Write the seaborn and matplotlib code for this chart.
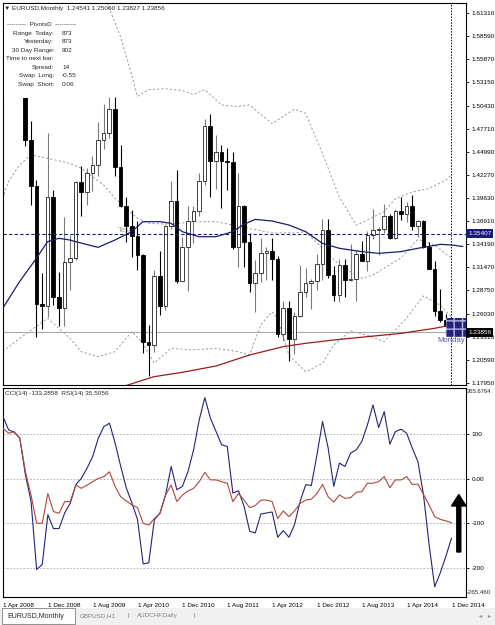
import matplotlib
matplotlib.use("Agg")
import matplotlib.pyplot as plt
from matplotlib.patches import Rectangle, Polygon
import seaborn as sns
import pandas as pd

# EURUSD monthly bars, index 0 = Apr 2008 ... 80 = Dec 2014
opens = [1.5785, 1.5593, 1.5553, 1.5760, 1.5605, 1.4640, 1.4100, 1.2720, 1.2690, 1.3970,
         1.2801, 1.2667, 1.3212, 1.3250, 1.4152, 1.4033, 1.4249, 1.4343, 1.4639, 1.4717,
         1.5002, 1.4325, 1.3866, 1.3628, 1.3510, 1.3291, 1.2270, 1.2230, 1.3050, 1.2687,
         1.3633, 1.3925, 1.2987, 1.3380, 1.3690, 1.3806, 1.4161, 1.4808, 1.4391, 1.4497,
         1.4397, 1.4379, 1.3387, 1.3864, 1.3448, 1.2960, 1.3081, 1.3319, 1.3340, 1.3240,
         1.2370, 1.2665, 1.2305, 1.2580, 1.2860, 1.2960, 1.2990, 1.3190, 1.3580, 1.3060,
         1.2820, 1.3170, 1.3000, 1.3010, 1.3300, 1.3220, 1.3525, 1.3585, 1.3590, 1.3745,
         1.3485, 1.3805, 1.3770, 1.3870, 1.3635, 1.3692, 1.3389, 1.3130, 1.2630, 1.2525,
         1.24541]
highs = [1.6019, 1.5818, 1.5844, 1.6038, 1.5624, 1.4867, 1.4164, 1.3082, 1.4719, 1.4049,
         1.3089, 1.3738, 1.3520, 1.4157, 1.4338, 1.4305, 1.4446, 1.4844, 1.5062, 1.5144,
         1.5144, 1.4579, 1.3965, 1.3817, 1.3694, 1.3306, 1.2470, 1.3119, 1.3334, 1.3646,
         1.4159, 1.4282, 1.3500, 1.3863, 1.3861, 1.4250, 1.4884, 1.4940, 1.4700, 1.4578,
         1.4548, 1.4497, 1.4247, 1.3872, 1.3550, 1.3233, 1.3487, 1.3385, 1.3484, 1.3283,
         1.2747, 1.2747, 1.2624, 1.3172, 1.3140, 1.3010, 1.3308, 1.3711, 1.3711, 1.3167,
         1.3243, 1.3243, 1.3416, 1.3346, 1.3452, 1.3569, 1.3833, 1.3620, 1.3892, 1.3775,
         1.3824, 1.3967, 1.3906, 1.3993, 1.3702, 1.3700, 1.3444, 1.3222, 1.2887, 1.2600,
         1.25060]
lows = [1.5515, 1.5285, 1.5302, 1.5550, 1.4568, 1.3881, 1.2330, 1.2421, 1.2560, 1.2707,
        1.2457, 1.2458, 1.2885, 1.3226, 1.3747, 1.3878, 1.4045, 1.4211, 1.4536, 1.4661,
        1.4219, 1.3858, 1.3443, 1.3267, 1.3114, 1.2142, 1.1876, 1.2150, 1.2589, 1.2650,
        1.3600, 1.2967, 1.3030, 1.2873, 1.3429, 1.3747, 1.4110, 1.3968, 1.4069, 1.3838,
        1.4051, 1.3363, 1.3145, 1.3146, 1.2857, 1.2624, 1.2973, 1.3003, 1.3003, 1.2333,
        1.2288, 1.2042, 1.2130, 1.2561, 1.2802, 1.2660, 1.2876, 1.3001, 1.3020, 1.2750,
        1.2745, 1.2796, 1.2984, 1.2755, 1.3224, 1.3104, 1.3480, 1.3296, 1.3544, 1.3479,
        1.3476, 1.3703, 1.3673, 1.3586, 1.3503, 1.3367, 1.3150, 1.2571, 1.2501, 1.2358,
        1.23827]
closes = [1.5593, 1.5553, 1.5760, 1.5605, 1.4640, 1.4100, 1.2720, 1.2690, 1.3970, 1.2801,
          1.2667, 1.3212, 1.3250, 1.4152, 1.4033, 1.4249, 1.4343, 1.4639, 1.4717, 1.5002,
          1.4325, 1.3866, 1.3628, 1.3510, 1.3291, 1.2270, 1.2230, 1.3050, 1.2687, 1.3633,
          1.3925, 1.2987, 1.3380, 1.3690, 1.3806, 1.4161, 1.4808, 1.4391, 1.4497, 1.4397,
          1.4379, 1.3387, 1.3864, 1.3448, 1.2960, 1.3081, 1.3319, 1.3340, 1.3240, 1.2370,
          1.2665, 1.2305, 1.2580, 1.2860, 1.2960, 1.2990, 1.3190, 1.3580, 1.3060, 1.2820,
          1.3170, 1.3000, 1.3010, 1.3300, 1.3220, 1.3525, 1.3585, 1.3590, 1.3745, 1.3485,
          1.3805, 1.3770, 1.3870, 1.3635, 1.3692, 1.3389, 1.3130, 1.2630, 1.2525, 1.2454,
          1.23856]

# moving averages / bollinger bands, sampled at bar index
ma_blue_idx = [0, 3, 6, 8, 10, 12, 13, 17, 20, 23, 25, 28, 30, 32, 35, 38, 41, 43, 45, 48,
               51, 54, 57, 60, 64, 67, 71, 74, 78, 80, 82]
ma_blue = [1.2665, 1.2978, 1.3251, 1.3447, 1.3486, 1.3466, 1.3447, 1.3380, 1.3466, 1.3564,
           1.3681, 1.3681, 1.3662, 1.3564, 1.3505, 1.3505, 1.3564, 1.3650, 1.3708, 1.3689,
           1.3642, 1.3564, 1.3427, 1.3369, 1.3330, 1.3310, 1.3330, 1.3369, 1.3415, 1.3408, 1.3390]
ma_red_idx = [22, 26, 27, 32, 38, 44, 50, 54, 59, 65, 71, 77, 80, 82]
ma_red = [1.1760, 1.1844, 1.1864, 1.1915, 1.1989, 1.2118, 1.2216, 1.2255, 1.2294, 1.2333,
          1.2372, 1.2431, 1.2470, 1.2490]
bb_up_idx = [16, 19, 21, 23, 24, 26, 29, 32, 34, 36, 39, 42, 44, 48, 52, 54, 57, 60, 63, 65,
             68, 70, 73, 76, 79, 80]
bb_up = [1.680, 1.618, 1.585, 1.540, 1.515, 1.523, 1.524, 1.522, 1.517, 1.523, 1.505, 1.503,
         1.505, 1.483, 1.500, 1.495, 1.448, 1.397, 1.364, 1.370, 1.380, 1.395, 1.403, 1.407,
         1.417, 1.423]
bb_mid_idx = [0, 1, 3, 5, 8, 12, 14, 18, 20, 22, 24, 26, 30, 34, 38, 41, 44, 48, 52, 54,
              57, 60, 64, 66, 71, 74, 77, 80]
bb_mid = [1.3955, 1.4150, 1.4346, 1.4463, 1.4424, 1.4365, 1.4307, 1.4111, 1.3955, 1.3838,
          1.3720, 1.3662, 1.3650, 1.3681, 1.3681, 1.3642, 1.3600, 1.3550, 1.3550, 1.3564,
          1.3369, 1.3174, 1.3017, 1.3056, 1.3256, 1.3474, 1.3408, 1.3252]
bb_lo_idx = [0, 3, 8, 12, 14, 17, 20, 23, 25, 27, 30, 34, 38, 42, 44, 46, 48, 49, 51, 54,
             57, 59, 62, 65, 68, 72, 75, 78, 80]
bb_lo = [1.2157, 1.2313, 1.2548, 1.2313, 1.2157, 1.2098, 1.2157, 1.2391, 1.2259, 1.2024,
         1.2196, 1.2177, 1.2196, 1.2157, 1.2118, 1.2470, 1.2626, 1.2548, 1.2118, 1.1922,
         1.2020, 1.2235, 1.2400, 1.2350, 1.2275, 1.2550, 1.2810, 1.2700, 1.2560]

cci = [139.6, 109.7, 104.5, 91.0, 9.0, -50.7, -203.7, -192.5, -80.6, -111.9,
       -111.9, -76.9, -54.5, -13.4, 1.5, 23.9, 50.0, 91.0, 117.2, 124.6,
       79.9, 27.6, -20.9, -54.5, -91.8, -191.0, -188.8, -91.8, -76.9, -35.8,
       27.6, -24.6, -17.2, 16.4, 64.9, 132.1, 182.1, 135.8, 106.0, 76.1,
       72.4, -32.1, -26.9, -61.9, -117.9, -121.6, -79.1, -76.9, -74.6, -131.3,
       -116.4, -131.3, -103.0, -50.7, -13.4, -14.9, 53.7, 128.4, 68.7, -17.2,
       35.1, 27.6, 57.5, 64.9, 83.6, 120.9, 165.7, 114.9, 150.7, 77.6,
       106.0, 111.2, 102.2, 68.7, 38.8, -35.8, -147.8, -242.5, -211.2, -173.9,
       -133.3]
rsi = [66.8, 65.2, 65.7, 63.5, 52.4, 44.7, 35.3, 35.3, 45.2, 39.2,
       38.6, 42.5, 42.5, 48.0, 46.9, 48.0, 49.1, 50.2, 50.8, 52.4,
       47.5, 44.1, 42.7, 41.4, 40.5, 35.3, 34.7, 36.9, 38.6, 44.7,
       48.0, 42.5, 44.7, 46.0, 46.9, 49.1, 52.2, 49.7, 49.7, 49.1,
       48.6, 42.5, 45.2, 43.0, 40.5, 41.2, 43.0, 43.0, 42.5, 36.9,
       39.4, 37.5, 39.4, 41.9, 43.0, 43.3, 45.2, 48.2, 44.1, 42.3,
       44.7, 43.6, 43.8, 45.6, 45.8, 48.6, 48.6, 49.1, 50.8, 47.1,
       49.7, 49.7, 50.8, 48.2, 48.3, 44.9, 41.4, 37.5, 36.6, 36.1,
       35.5]

price_ticks = [1.61310, 1.58590, 1.55870, 1.53150, 1.50430, 1.47710, 1.44990, 1.42270,
               1.39630, 1.36910, 1.34190, 1.31470, 1.28750, 1.26030, 1.23310, 1.20590, 1.17950]
date_idx = [0, 8, 16, 24, 32, 40, 48, 56, 64, 72, 80]
date_labels = ['1 Apr 2008', '1 Dec 2008', '1 Aug 2009', '1 Apr 2010', '1 Dec 2010',
               '1 Aug 2011', '1 Apr 2012', '1 Dec 2012', '1 Aug 2013', '1 Apr 2014', '1 Dec 2014']
cci_ticks = [100, 0, -100, -200]
cci_tick_labels = ['100', '0.00', '-100', '-200']
hline_price = 1.35407
bid_price = 1.23856

W, H = 495, 625
FS = 4.6


def fx(x):
    return x / W


def fy(y):
    return 1 - y / H


sns.set_style("white")
plt.rcParams['font.family'] = ['Liberation Sans', 'DejaVu Sans']

fig = plt.figure(figsize=(4.95, 6.25), dpi=100)
fig.patch.set_facecolor('white')

ax = fig.add_axes([fx(3), fy(385), fx(466) - fx(3), fy(3) - fy(385)])
axi = fig.add_axes([fx(3), fy(597), fx(466) - fx(3), fy(388) - fy(597)])

x_lo, x_hi = (3 - 2.7) / 5.61, (466 - 2.7) / 5.61

# ---------- candles ----------
df = pd.DataFrame({'o': opens, 'h': highs, 'l': lows, 'c': closes})
df['i'] = range(len(df))
up = df['c'] >= df['o']
body_lo = df[['o', 'c']].min(axis=1)
body_h = (df['c'] - df['o']).abs().clip(lower=0.0003)

ax.vlines(df['i'][up], df['l'][up], df['h'][up], color='#7a7a7a', lw=0.8, zorder=2)
ax.vlines(df['i'][~up], df['l'][~up], df['h'][~up], color='black', lw=0.8, zorder=2)
ax.bar(df['i'][up], body_h[up], bottom=body_lo[up], width=0.64, color='white',
       edgecolor='#202020', linewidth=0.6, zorder=3)
ax.bar(df['i'][~up], body_h[~up], bottom=body_lo[~up], width=0.64, color='black',
       edgecolor='black', linewidth=0.6, zorder=3)

# ---------- overlays ----------
dash = (0, (2.2, 2.2))
for idx, vals in [(bb_up_idx, bb_up), (bb_mid_idx, bb_mid), (bb_lo_idx, bb_lo)]:
    sns.lineplot(x=idx, y=vals, ax=ax, color='#9a9a9a', lw=0.7, linestyle=dash,
                 estimator=None, sort=False, zorder=1)
sns.lineplot(x=ma_blue_idx, y=ma_blue, ax=ax, color='#1c1c6e', lw=0.9,
             estimator=None, sort=False, zorder=4)
sns.lineplot(x=ma_red_idx, y=ma_red, ax=ax, color='#9a1c1c', lw=0.9,
             estimator=None, sort=False, zorder=4)

ax.axhline(hline_price, color='#1c1c6e', lw=0.8, linestyle=(0, (3, 2)), zorder=5)
ax.axhline(bid_price, color='#a8a8a8', lw=0.8, zorder=1)
ax.axvline(80, color='black', lw=0.7, linestyle=(0, (1.5, 1.5)), zorder=5)
ax.text(20.6, 1.3560, 'Test', color='#a0a0a0', fontsize=5.5, zorder=1)

ax.set_xlim(x_lo, x_hi)
ax.set_ylim(1.17664, 1.62447)
ax.set_xticks([])
ax.yaxis.tick_right()
ax.set_yticks(price_ticks)
ax.set_yticklabels([f'{p:.5f}' for p in price_ticks])
ax.tick_params(axis='y', direction='out', length=2.5, width=0.6, pad=1.5,
               labelsize=FS, colors='black')

# ---------- indicator window ----------
for lvl in cci_ticks:
    axi.axhline(lvl, color='#a8a8a8', lw=0.6, linestyle=(0, (2, 2)), zorder=1)
axi.axhline(203.7, color='#a8a8a8', lw=0.9, linestyle=(0, (2, 2)), zorder=1)

sns.lineplot(x=list(range(len(cci))), y=cci, ax=axi, color='#23237a', lw=0.8,
             estimator=None, sort=False, zorder=3)
axi.set_ylim(-265.46, 203.7)
axi.set_xlim(x_lo, x_hi)

axr = axi.twinx()
sns.lineplot(x=list(range(len(rsi))), y=rsi, ax=axr, color='#b2463a', lw=0.8,
             estimator=None, sort=False, zorder=2)
axr.set_ylim(10.84, 80.2)
axr.set_xlim(x_lo, x_hi)
axr.set_yticks([])
axr.set_ylabel('')
for s in axr.spines.values():
    s.set_visible(False)

axi.yaxis.tick_right()
axi.set_yticks(cci_ticks)
axi.set_yticklabels(cci_tick_labels)
axi.tick_params(axis='y', direction='out', length=2.5, width=0.6, pad=1.5,
                labelsize=FS, colors='black')
axi.set_xticks(date_idx)
axi.set_xticklabels(date_labels)
axi.tick_params(axis='x', direction='out', length=2.5, width=0.6, pad=1.5,
                labelsize=FS, colors='black')
for lbl in axi.get_xticklabels():
    lbl.set_ha('left')

for a in (ax, axi):
    a.set_xlabel('')
    a.set_ylabel('')
    for s in a.spines.values():
        s.set_color('black')
        s.set_linewidth(0.8)

# ---------- decorations in pixel space ----------
def frect(x0, y0, x1, y1, **kw):
    r = Rectangle((fx(x0), fy(y1)), fx(x1) - fx(x0), fy(y0) - fy(y1),
                  transform=fig.transFigure, **kw)
    fig.add_artist(r)
    return r


def ftext(x, y, s, **kw):
    kw.setdefault('fontsize', FS)
    kw.setdefault('va', 'center')
    return fig.text(fx(x), fy(y), s, **kw)


# info panel background hides the candles under it
frect(3.5, 3.5, 86, 97.5, facecolor='white', edgecolor='none', zorder=6)
ftext(4, 8.5, '\u25bc EURUSD,Monthly  1.24541 1.25060 1.23827 1.23856', zorder=8)
ftext(7, 25, '---------  PivotsD  ----------', zorder=8)
info = [('Range  Today:', '873'), ('Yesterday:', '873'), ('30 Day Range:', '902'),
        ('Time to next bar:', ''), ('Spread:', '14'), ('Swap  Long:', '-0.55'),
        ('Swap  Short:', '0.06')]
for k, (lab, val) in enumerate(info):
    yy = 33.5 + k * 8.45
    ftext(54, yy, lab, ha='right', zorder=8)
    ftext(62, yy, val, ha='left', zorder=8)

ftext(5, 393.5, 'CCI(14) -133.2858  RSI(14) 35.5056', zorder=8)
ftext(467, 391.5, '265.6764', fontsize=4.2, zorder=8)
ftext(467, 592, '-265.460', fontsize=4.4, zorder=8)

# axis price boxes
ftext(468, 233.5, '1.35407', color='white', zorder=9,
      bbox=dict(boxstyle='square,pad=0.28', fc='#1a1a78', ec='none'))
ftext(468, 332.5, '1.23856', color='white', zorder=9,
      bbox=dict(boxstyle='square,pad=0.28', fc='black', ec='none'))

# Monday object
frect(446, 318, 466, 336.5, facecolor='#232383', edgecolor='#b8b8e0', hatch='++',
      linewidth=0, zorder=7)
ftext(437, 341, 'Monday', color='#5a5aa5', fontsize=5.6, zorder=8)

# big arrow in indicator window
ax_pts = [(456.8, 552), (456.8, 506), (451.5, 506), (458.8, 494.5), (466, 506),
          (460.8, 506), (460.8, 552)]
fig.add_artist(Polygon([(fx(x), fy(y)) for x, y in ax_pts], closed=True,
                       transform=fig.transFigure, facecolor='black', edgecolor='black',
                       zorder=8))

# tab bar
frect(0, 608, 495, 625, facecolor='#f0f0f0', edgecolor='none', zorder=1)
frect(0, 607.5, 495, 608, facecolor='#b0b0b0', edgecolor='none', zorder=2)
frect(2, 608, 75, 623.5, facecolor='white', edgecolor='#808080', linewidth=0.6, zorder=3)
ftext(7, 616, 'EURUSD,Monthly', fontsize=5.0, zorder=4)
ftext(80, 616, 'GBPUSD,H1', color='#808080', fontsize=4.5, zorder=4)
ftext(127, 616, '|', color='#808080', fontsize=4.5, zorder=4)
ftext(137, 616, 'AUDCHF,Daily', color='#808080', fontsize=4.5, zorder=4)
ftext(193, 616, '|', color='#808080', fontsize=4.5, zorder=4)
ftext(479, 616, '\u25c2', color='#909090', zorder=4)
ftext(488, 616, '\u25b8', color='#909090', zorder=4)

fig.savefig('out.png', dpi=100)
